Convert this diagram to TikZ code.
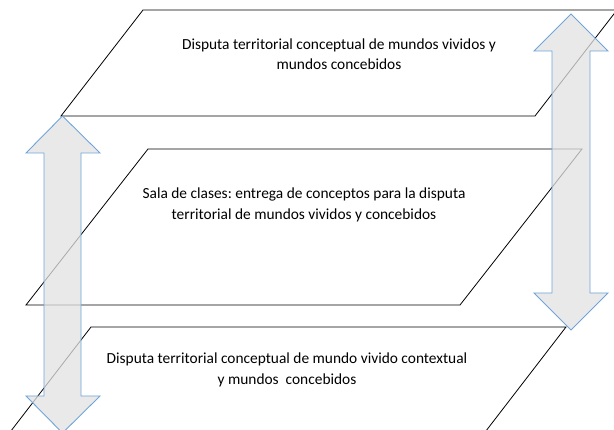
\documentclass[tikz,border=0pt]{standalone}
\usepackage{fontspec}
\setmainfont{Carlito}
\definecolor{arrowline}{HTML}{6FA5DA}
\definecolor{arrowfill}{HTML}{E3E2E2}
\frenchspacing
\begin{document}
\begin{tikzpicture}[x=1pt,y=-1pt,
  plane/.style={draw=black,line width=0.8pt,line join=miter},
  dblarrow/.style={draw=arrowline,line width=0.9pt,fill=arrowfill,fill opacity=0.75,line join=miter},
  label/.style={font=\fontsize{15.4}{20.5}\selectfont,align=center,text=black}]
\useasboundingbox (0,0) rectangle (614,430);
\clip (0,0) rectangle (614,430);
% planes
\coordinate (a1) at (61,116); \coordinate (b1) at (143,10);
\coordinate (c1) at (617,10); \coordinate (d1) at (535,116);
\coordinate (a2) at (26,305); \coordinate (b2) at (148,149);
\coordinate (c2) at (582,149); \coordinate (d2) at (460,305);
\coordinate (a3) at (4,440); \coordinate (b3) at (91,327);
\coordinate (c3) at (566,327); \coordinate (d3) at (479,440);
\draw[plane] (a1) -- (b1) -- (c1) -- (d1) -- cycle;
\draw[plane] (a2) -- (b2) -- (c2) -- (d2) -- cycle;
\draw[plane] (a3) -- (b3) -- (c3) -- (d3) -- cycle;
% texts
\node[label] (t1) at (339,54) {Disputa territorial conceptual de mundos vividos y\\mundos concebidos};
\node[label] (t2) at (304,205) {Sala de clases: entrega de conceptos para la disputa\\territorial de mundos vividos y concebidos};
\node[label] (t3) at (287,370) {Disputa territorial conceptual de mundo vivido contextual\\y mundos\ \ concebidos};
% double arrows
\draw[dblarrow] (62.5,116) -- (100,153) -- (81,153) -- (81,396) -- (100,396) -- (62.5,433)
  -- (26,396) -- (44,396) -- (44,153) -- (26,153) -- cycle;
\draw[dblarrow] (571,14) -- (608,51) -- (590,51) -- (590,293) -- (608,293) -- (571,330)
  -- (534,293) -- (552,293) -- (552,51) -- (534,51) -- cycle;
\end{tikzpicture}
\end{document}
